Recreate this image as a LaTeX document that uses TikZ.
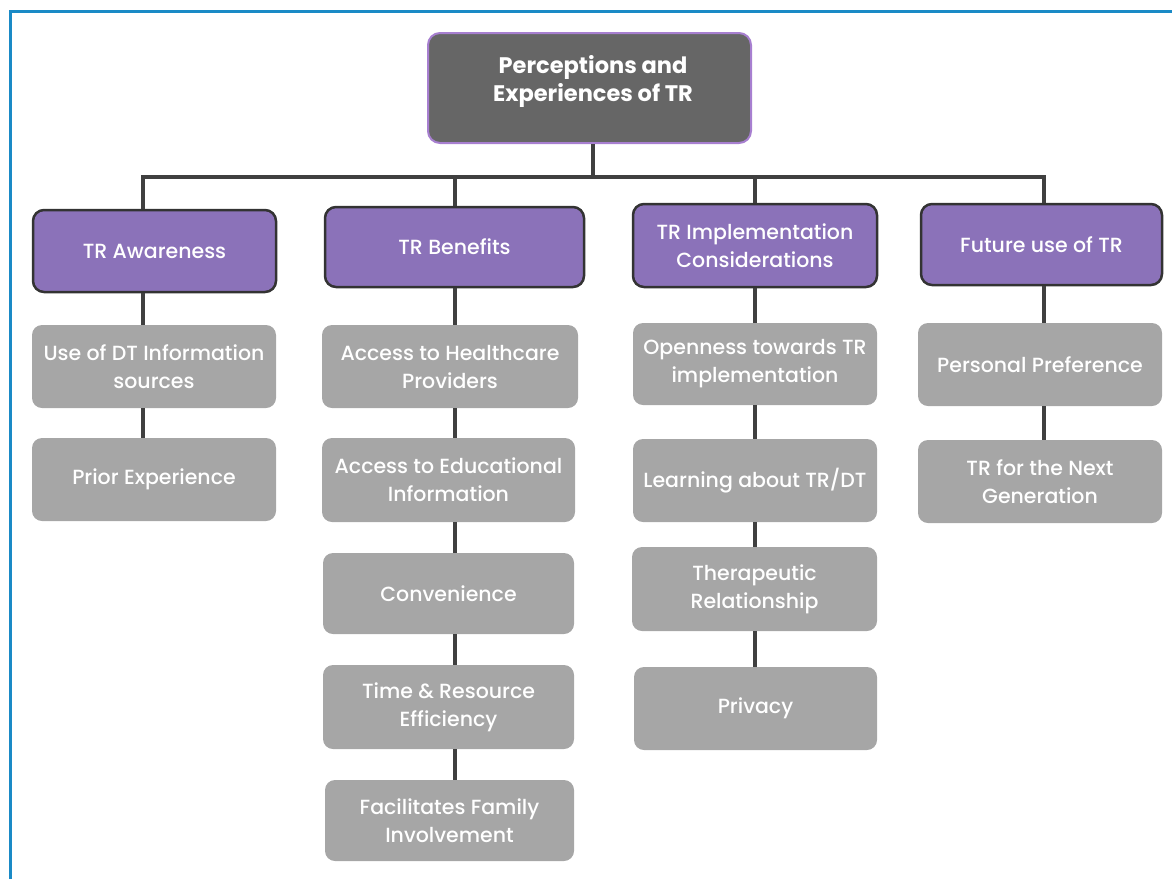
\documentclass[tikz,border=0pt]{standalone}
\usepackage{fontspec}
\setmainfont{Poppins}
\newfontfamily\pmed{Poppins Medium}
\definecolor{rootfill}{HTML}{666666}
\definecolor{rootedge}{HTML}{A77FD0}
\definecolor{purp}{HTML}{8B72B9}
\definecolor{purpedge}{HTML}{333333}
\definecolor{gfill}{HTML}{A6A6A6}
\definecolor{connc}{HTML}{404040}
\definecolor{frame}{HTML}{1A8AC6}
\tikzset{
  rootbox/.style={draw=rootedge, line width=2pt, fill=rootfill, rounded corners=12pt, inner sep=0pt},
  catbox/.style={draw=purpedge, line width=2.5pt, fill=purp, rounded corners=11pt, inner sep=0pt},
  subbox/.style={fill=gfill, rounded corners=10pt, inner sep=0pt},
  lbl/.style={text=white, align=center, font=\pmed\fontsize{20.5}{28}\selectfont},
  rootlbl/.style={text=white, align=center, font=\fontsize{22.5}{28}\selectfont\bfseries},
  conn/.style={draw=connc, line width=4pt}
}
\begin{document}
\begin{tikzpicture}[x=1pt,y=-1pt]
\useasboundingbox (0,0) rectangle (1172,879);
\draw[frame, line width=3pt] (10,879) -- (10,11) -- (1172,11);
% coordinates for connector columns
\coordinate (c0) at (593,0);
\coordinate (c1) at (143,0);
\coordinate (c2) at (455,0);
\coordinate (c3) at (755,0);
\coordinate (c4) at (1044,0);
\coordinate (hl) at (0,177);
% boxes
\node[rootbox, minimum width=323pt, minimum height=110pt] (root) at (589.5,88) {};
\node[catbox, minimum width=243pt, minimum height=82pt] (aw) at (154.5,251) {};
\node[catbox, minimum width=259pt, minimum height=80pt] (be) at (454.5,247) {};
\node[catbox, minimum width=244pt, minimum height=83pt] (im) at (755,245.5) {};
\node[catbox, minimum width=241pt, minimum height=81pt] (fu) at (1041.5,244.5) {};
\node[subbox, minimum width=244pt, minimum height=83pt] (u1) at (154,366.5) {};
\node[subbox, minimum width=244pt, minimum height=83pt] (u2) at (154,479.5) {};
\node[subbox, minimum width=256pt, minimum height=83pt] (b1) at (450,366.5) {};
\node[subbox, minimum width=253pt, minimum height=84pt] (b2) at (448.5,480) {};
\node[subbox, minimum width=251pt, minimum height=81pt] (b3) at (448.5,593.5) {};
\node[subbox, minimum width=251pt, minimum height=84pt] (b4) at (448.5,707) {};
\node[subbox, minimum width=249pt, minimum height=81pt] (b5) at (449.5,820.5) {};
\node[subbox, minimum width=244pt, minimum height=82pt] (i1) at (755,364) {};
\node[subbox, minimum width=244pt, minimum height=83pt] (i2) at (755,480.5) {};
\node[subbox, minimum width=245pt, minimum height=84pt] (i3) at (754.5,589) {};
\node[subbox, minimum width=243pt, minimum height=83pt] (i4) at (755.5,708.5) {};
\node[subbox, minimum width=244pt, minimum height=83pt] (f1) at (1040,364.5) {};
\node[subbox, minimum width=244pt, minimum height=83pt] (f2) at (1040,481.5) {};
% connectors
\draw[conn] (root.south -| c0) -- (c0 |- hl);
\draw[conn] (aw.north -| c1) -- (c1 |- hl) -- (c4 |- hl) -- (fu.north -| c4);
\draw[conn] (be.north -| c2) -- (c2 |- hl);
\draw[conn] (im.north -| c3) -- (c3 |- hl);
\draw[conn] (aw.south -| c1) -- (u1.north -| c1);
\draw[conn] (u1.south -| c1) -- (u2.north -| c1);
\draw[conn] (be.south -| c2) -- (b1.north -| c2);
\draw[conn] (b1.south -| c2) -- (b2.north -| c2);
\draw[conn] (b2.south -| c2) -- (b3.north -| c2);
\draw[conn] (b3.south -| c2) -- (b4.north -| c2);
\draw[conn] (b4.south -| c2) -- (b5.north -| c2);
\draw[conn] (im.south -| c3) -- (i1.north -| c3);
\draw[conn] (i1.south -| c3) -- (i2.north -| c3);
\draw[conn] (i2.south -| c3) -- (i3.north -| c3);
\draw[conn] (i3.south -| c3) -- (i4.north -| c3);
\draw[conn] (fu.south -| c4) -- (f1.north -| c4);
\draw[conn] (f1.south -| c4) -- (f2.north -| c4);
% texts
\node[rootlbl] (roott) at (593,81) {Perceptions and\\Experiences of TR};
\node[lbl] (awt) at (aw) {TR Awareness};
\node[lbl] (bet) at (be) {TR Benefits};
\node[lbl] (imt) at (im) {TR Implementation\\Considerations};
\node[lbl] (fut) at (fu) {Future use of TR};
\node[lbl] (u1t) at (u1) {Use of DT Information\\sources};
\node[lbl] (u2t) at (u2) {Prior Experience};
\node[lbl] (b1t) at (b1) {Access to Healthcare\\Providers};
\node[lbl] (b2t) at (b2) {Access to Educational\\Information};
\node[lbl] (b3t) at (b3) {Convenience};
\node[lbl] (b4t) at (b4) {Time \& Resource\\Efficiency};
\node[lbl] (b5t) at (b5) {Facilitates Family\\Involvement};
\node[lbl] (i1t) at (i1) {Openness towards TR\\implementation};
\node[lbl] (i2t) at (i2) {Learning about TR/DT};
\node[lbl] (i3t) at (i3) {Therapeutic\\Relationship};
\node[lbl] (i4t) at (i4) {Privacy};
\node[lbl] (f1t) at (f1) {Personal Preference};
\node[lbl] (f2t) at (f2) {TR for the Next\\Generation};
\end{tikzpicture}
\end{document}
